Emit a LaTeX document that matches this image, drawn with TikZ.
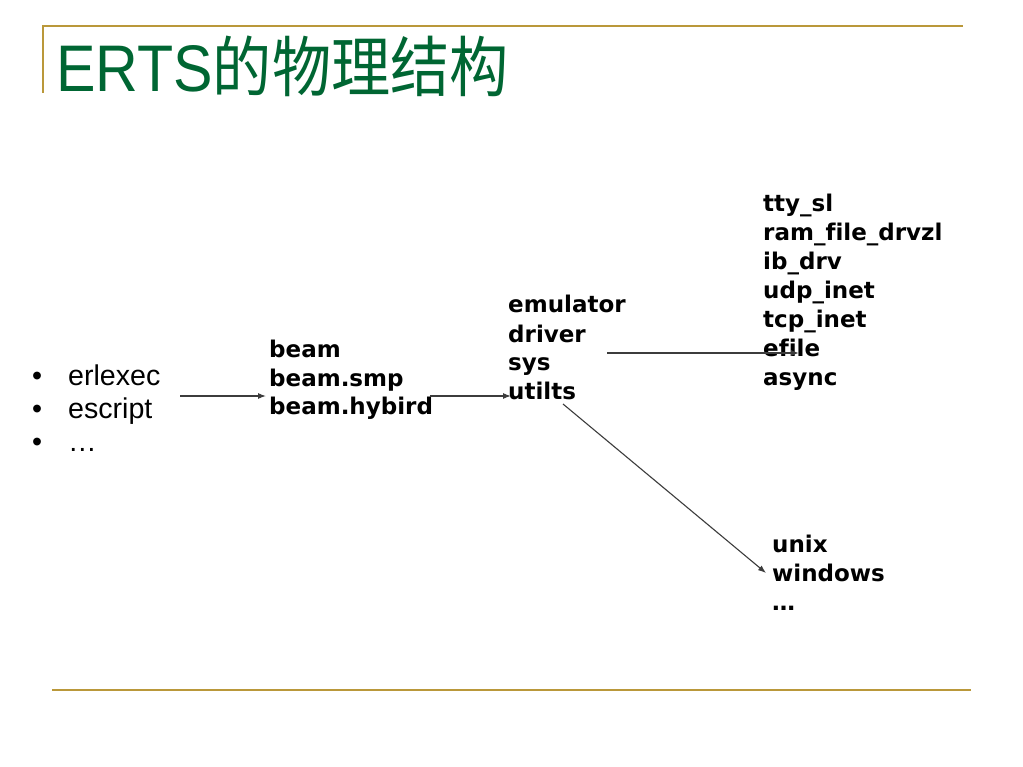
\documentclass[tikz,border=0pt]{standalone}
\usepackage{fontspec}
\setmainfont{Liberation Sans}
\newfontfamily\cjk{Noto Sans CJK SC}
\newfontfamily\vfont{DejaVu Sans}[Ligatures=NoCommon]
\usetikzlibrary{arrows.meta,calc}
\definecolor{titlegreen}{RGB}{0,102,51}
\definecolor{gold}{RGB}{186,152,58}
\definecolor{arrowgray}{RGB}{60,60,60}
\begin{document}
\begin{tikzpicture}[x=1pt,y=1pt,
  blk/.style={anchor=base west,inner sep=0pt,font=\vfont\bfseries\fontsize{23}{29}\selectfont},
  conn/.style={draw=arrowgray,line width=1.1pt,-{Latex[length=8pt,width=6pt]}},
  rule/.style={draw=gold,line width=2pt}]
\useasboundingbox (0,0) rectangle (1023,-767);
\fill[white] (0,0) rectangle (1023,-767);
% frame rules
\coordinate (tl) at (42,-26);
\coordinate (tr) at (963,-26);
\coordinate (vb) at (43,-93);
\coordinate (bl) at (52,-690);
\coordinate (br) at (971,-690);
\draw[rule] (tl) -- (tr);
\draw[rule,line width=1.6pt] (43,-26) -- (vb);
\draw[rule,line width=2.4pt] (bl) -- (br);
% title
\node[anchor=base west,inner sep=0pt,text=titlegreen,font=\fontsize{61}{61}\selectfont] (title) at (56,-92)
  {\scalebox{0.97}[1.08]{ERTS{\cjk 的物理结构}}};
% bullet list
\node[anchor=base west,inner sep=0pt,font=\fontsize{28.6}{33}\selectfont] (cmds) at (32,-385)
  {\begin{tabular}[t]{@{}l@{}}\makebox[36pt][l]{•}erlexec\\\makebox[36pt][l]{•}escript\\\makebox[36pt][l]{•}…\end{tabular}};
% blocks
\node[blk] (beam) at (269,-357)
  {\begin{tabular}[t]{@{}l@{}}beam\\beam.smp\\beam.hybird\end{tabular}};
\node[blk] (emu) at (508,-313)
  {\begin{tabular}[t]{@{}l@{}}emulator\\driver\\sys\\utilts\end{tabular}};
\node[blk] (drv) at (763,-212)
  {\begin{tabular}[t]{@{}l@{}}tty\_sl\\ram\_file\_drvzl\\ib\_drv\\udp\_inet\\tcp\_inet\\efile\\async\end{tabular}};
\node[blk] (os) at (772,-552)
  {\begin{tabular}[t]{@{}l@{}}unix\\windows\\…\end{tabular}};
% connectors
\draw[conn] ($(cmds.base west)+(148,-11)$) -- ($(beam.base west)+(-3,-39)$);
\draw[conn] ($(beam.base west)+(161,-39)$) -- ($(emu.base west)+(3,-83)$);
\draw[conn] ($(emu.base west)+(99,-40)$) -- ($(drv.base west)+(36,-141)$);
\draw[conn] ($(emu.base west)+(55,-91)$) -- ($(os.base west)+(-6,-21)$);
\end{tikzpicture}
\end{document}
